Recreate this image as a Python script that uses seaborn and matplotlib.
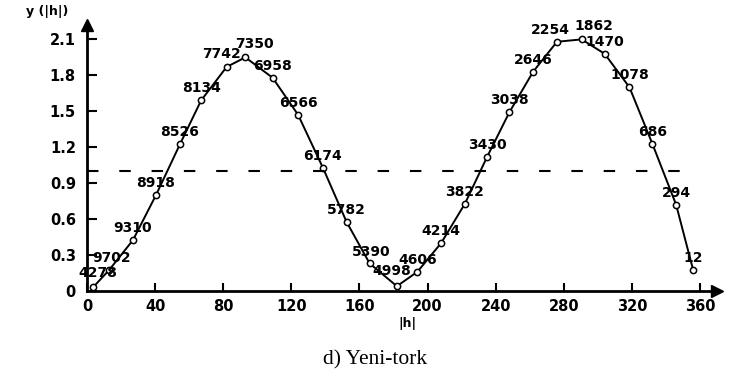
import matplotlib
matplotlib.use("Agg")
import matplotlib.pyplot as plt
import seaborn as sns

# values
h = [3.5, 13, 27, 40.5, 54.6, 67, 82, 93, 109, 124, 138.5, 152.5, 166, 182,
     194, 208, 222, 235, 248, 262, 276, 290.5, 304, 318.6, 332, 346, 356]
y = [0.03, 0.175, 0.425, 0.8, 1.225, 1.59, 1.87, 1.95, 1.78, 1.47, 1.03, 0.575,
     0.23, 0.04, 0.16, 0.4, 0.73, 1.12, 1.49, 1.83, 2.08, 2.1, 1.98, 1.7, 1.23,
     0.72, 0.175]
point_labels = ["4278", "9702", "9310", "8918", "8526", "8134", "7742", "7350",
                "6958", "6566", "6174", "5782", "5390", "4998", "4606", "4214",
                "3822", "3430", "3038", "2646", "2254", "1862", "1470", "1078",
                "686", "294", "12"]
limit = 1.0
x_ticks = [0, 40, 80, 120, 160, 200, 240, 280, 320, 360]
y_ticks = [0, 0.3, 0.6, 0.9, 1.2, 1.5, 1.8, 2.1]
y_ticklabels = ["0", "0.3", "0.6", "0.9", "1.2", "1.5", "1.8", "2.1"]

# label offsets in pixels (dx, dy up)
offs = {0: (5, 14), 1: (2, 12), 6: (-5, 13), 7: (9, 13), 12: (2, 11),
        13: (-5, 15), 20: (-7, 12), 21: (12, 13)}

sns.set_style("white", {"axes.edgecolor": "black", "text.color": "black",
                        "axes.labelcolor": "black", "xtick.color": "black",
                        "ytick.color": "black"})
plt.rcParams["font.family"] = ["DejaVu Sans"]

fig = plt.figure(figsize=(7.36, 3.86), dpi=100)
ax = fig.add_axes([87 / 736, 95 / 386, 630 / 736, 266 / 386])

sns.lineplot(x=h, y=y, sort=False, color="black", linewidth=1.4, marker="o",
             markersize=4.5, markerfacecolor="white", markeredgecolor="black",
             markeredgewidth=1.1, ax=ax)
ax.hlines(limit, 0, 352, colors="black", linewidth=1.5,
          linestyles=(0, (5.5, 10)))

for i, (xv, yv, lab) in enumerate(zip(h, y, point_labels)):
    dx, dy = offs.get(i, (0, 12))
    ax.annotate(lab, (xv, yv), xytext=(dx * 0.72, dy * 0.72),
                textcoords="offset points", ha="center", va="center",
                fontsize=10, fontweight="bold", color="black")

ax.set_xlim(0, 370)
ax.set_ylim(0, 2.22)
ax.set_xticks(x_ticks)
ax.set_yticks(y_ticks)
ax.set_yticklabels(y_ticklabels)
for t in ax.get_xticklabels() + ax.get_yticklabels():
    t.set_fontweight("bold")
ax.tick_params(axis="x", direction="in", length=6, width=1.5, pad=6,
               labelsize=10.5, bottom=True, colors="black")
ax.tick_params(axis="y", direction="in", length=7, width=1.5, pad=8,
               labelsize=10.5, left=True, colors="black")

sns.despine(ax=ax)
for s in ["left", "bottom"]:
    ax.spines[s].set_linewidth(2)
    ax.spines[s].set_color("black")
ax.plot(0, 1, marker="^", color="black", markersize=9,
        transform=ax.transAxes, clip_on=False)
ax.plot(1, 0, marker=">", color="black", markersize=9,
        transform=ax.transAxes, clip_on=False)

fig.text(47 / 736, 1 - 12 / 386, "y (|h|)", ha="center", va="center",
         fontsize=9, fontweight="bold", color="black")
fig.text(407 / 736, 1 - 323 / 386, "|h|", ha="center", va="center",
         fontsize=9, fontweight="bold", color="black")
fig.text(375 / 736, 1 - 360 / 386, "d) Yeni-tork", ha="center", va="center",
         fontsize=15.5, family=["Liberation Serif"], color="black")

fig.savefig("out.png", dpi=100)
